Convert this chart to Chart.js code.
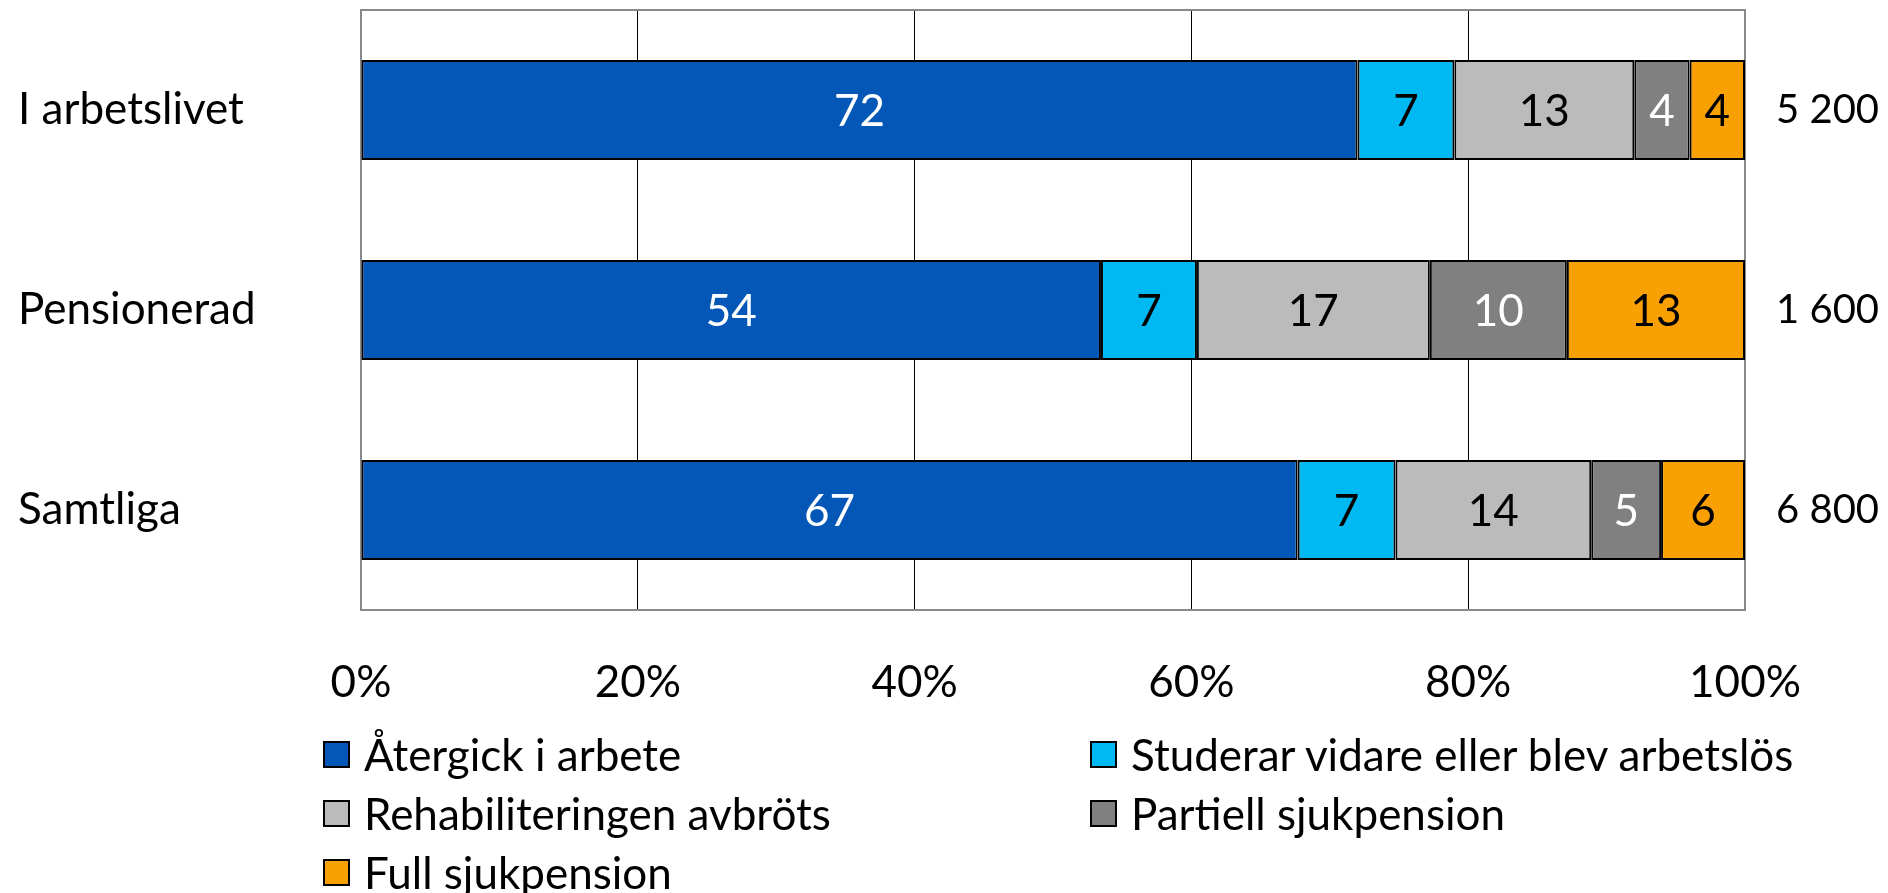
<!DOCTYPE html>
<html lang="sv">
<head>
<meta charset="utf-8">
<title>Rehabilitering – utfall</title>
<script src="https://cdn.jsdelivr.net/npm/chart.js@4.4.1/dist/chart.umd.min.js"></script>
<style>
  html, body { margin: 0; padding: 0; background: #fff; }
  #wrap { position: relative; width: 1888px; height: 893px; overflow: hidden; }
  #legend { position: absolute; left: 0; top: 0; width: 100%; height: 100%; font-family: Lato, sans-serif; font-size: 44px; color: #000; }
  .item { position: absolute; display: flex; align-items: center; height: 50px; white-space: nowrap; }
  .box { width: 27px; height: 27px; border: 2px solid #000; box-sizing: border-box; margin-right: 14px; }
</style>
</head>
<body>
<div id="wrap">
  <canvas id="chart" width="1888" height="893"></canvas>
  <div id="legend"></div>
</div>
<script>
// Kategorier och antal personer (höger axel)
var categories = ["I arbetslivet", "Pensionerad", "Samtliga"];
var totals = ["5 200", "1 600", "6 800"];

// Serier, procent (avrundade som i diagrammet)
var seriesNames = ["Återgick i arbete", "Studerar vidare eller blev arbetslös", "Rehabiliteringen avbröts", "Partiell sjukpension", "Full sjukpension"];
var atergick = [72, 54, 67];
var studerar = [7, 7, 7];
var avbrots = [13, 17, 14];
var partiell = [4, 10, 5];
var fullPension = [4, 13, 6];

var xTickLabels = ["0%", "20%", "40%", "60%", "80%", "100%"];

var series = [atergick, studerar, avbrots, partiell, fullPension];
var colors = ["#0457B7", "#00B8F2", "#BBBBBB", "#808080", "#F9A005"];
var labelColors = ["#fff", "#000", "#000", "#fff", "#000"];

// 100 % staplat: varje rad normaliseras mot sin summa
function rowSum(i) {
  var s = 0;
  series.forEach(function (v) { s += v[i]; });
  return s;
}

var datasets = series.map(function (values, k) {
  return {
    label: seriesNames[k],
    data: values.map(function (v, i) { return v / rowSum(i) * 100; }),
    rawValues: values,
    backgroundColor: colors[k],
    borderColor: "#000",
    borderWidth: 2,
    borderSkipped: false,
    categoryPercentage: 0.5,
    barPercentage: 1
  };
});

Chart.defaults.font.family = "Lato, sans-serif";
Chart.defaults.font.size = 44;
Chart.defaults.color = "#000";

// Ram runt diagramytan
var framePlugin = {
  id: "frame",
  beforeDatasetsDraw: function (chart) {
    var a = chart.chartArea, ctx = chart.ctx;
    ctx.save();
    ctx.strokeStyle = "#898989";
    ctx.lineWidth = 2;
    ctx.strokeRect(a.left, a.top, a.right - a.left, a.bottom - a.top);
    ctx.restore();
  }
};

// Värden mitt i varje segment
var valuePlugin = {
  id: "values",
  afterDatasetsDraw: function (chart) {
    var ctx = chart.ctx;
    ctx.save();
    ctx.font = "44px Lato, sans-serif";
    ctx.textAlign = "center";
    ctx.textBaseline = "middle";
    chart.data.datasets.forEach(function (ds, k) {
      chart.getDatasetMeta(k).data.forEach(function (el, i) {
        var p = el.getProps(["x", "y", "base"], true);
        ctx.fillStyle = labelColors[k];
        ctx.fillText(String(ds.rawValues[i]), (p.x + p.base) / 2, p.y + 2);
      });
    });
    ctx.restore();
  }
};

function noEdgePadding(s) {
  s.paddingTop = 0;
  s.paddingBottom = 0;
}

var chart = new Chart(document.getElementById("chart"), {
  type: "bar",
  data: { labels: categories, datasets: datasets },
  plugins: [framePlugin, valuePlugin],
  options: {
    indexAxis: "y",
    responsive: false,
    animation: false,
    devicePixelRatio: 1,
    layout: { padding: { left: 18, top: 10, right: 0, bottom: 0 } },
    plugins: { legend: { display: false }, tooltip: { enabled: false } },
    scales: {
      x: {
        stacked: true,
        min: 0,
        max: 100,
        border: { display: false },
        grid: {
          drawTicks: false,
          lineWidth: 1,
          color: function (c) {
            return (c.tick && (c.tick.value === 0 || c.tick.value === 100)) ? "rgba(0,0,0,0)" : "#000";
          }
        },
        ticks: {
          stepSize: 20,
          padding: 46,
          maxRotation: 0,
          callback: function (v, i) { return xTickLabels[i]; }
        },
        afterFit: function (s) { s.height = 283; }
      },
      y: {
        stacked: true,
        border: { display: false },
        grid: { display: false, drawTicks: false },
        ticks: { crossAlign: "far", padding: 0 },
        afterFit: function (s) { s.width = 343; noEdgePadding(s); }
      },
      y2: {
        type: "category",
        position: "right",
        labels: totals,
        offset: true,
        border: { display: false },
        grid: { display: false, drawTicks: false },
        ticks: { crossAlign: "near", padding: 31, font: { size: 40 } },
        afterFit: function (s) { s.width = 143; noEdgePadding(s); }
      }
    }
  }
});

// Förklaring i två kolumner
var legend = document.getElementById("legend");
var colLeft = [323, 1090];
var rowTop = [729, 788, 847];
seriesNames.forEach(function (name, k) {
  var item = document.createElement("div");
  item.className = "item";
  item.style.left = colLeft[k % 2] + "px";
  item.style.top = rowTop[Math.floor(k / 2)] + "px";
  var box = document.createElement("span");
  box.className = "box";
  box.style.background = colors[k];
  var txt = document.createElement("span");
  txt.textContent = name;
  item.appendChild(box);
  item.appendChild(txt);
  legend.appendChild(item);
});
</script>
</body>
</html>
